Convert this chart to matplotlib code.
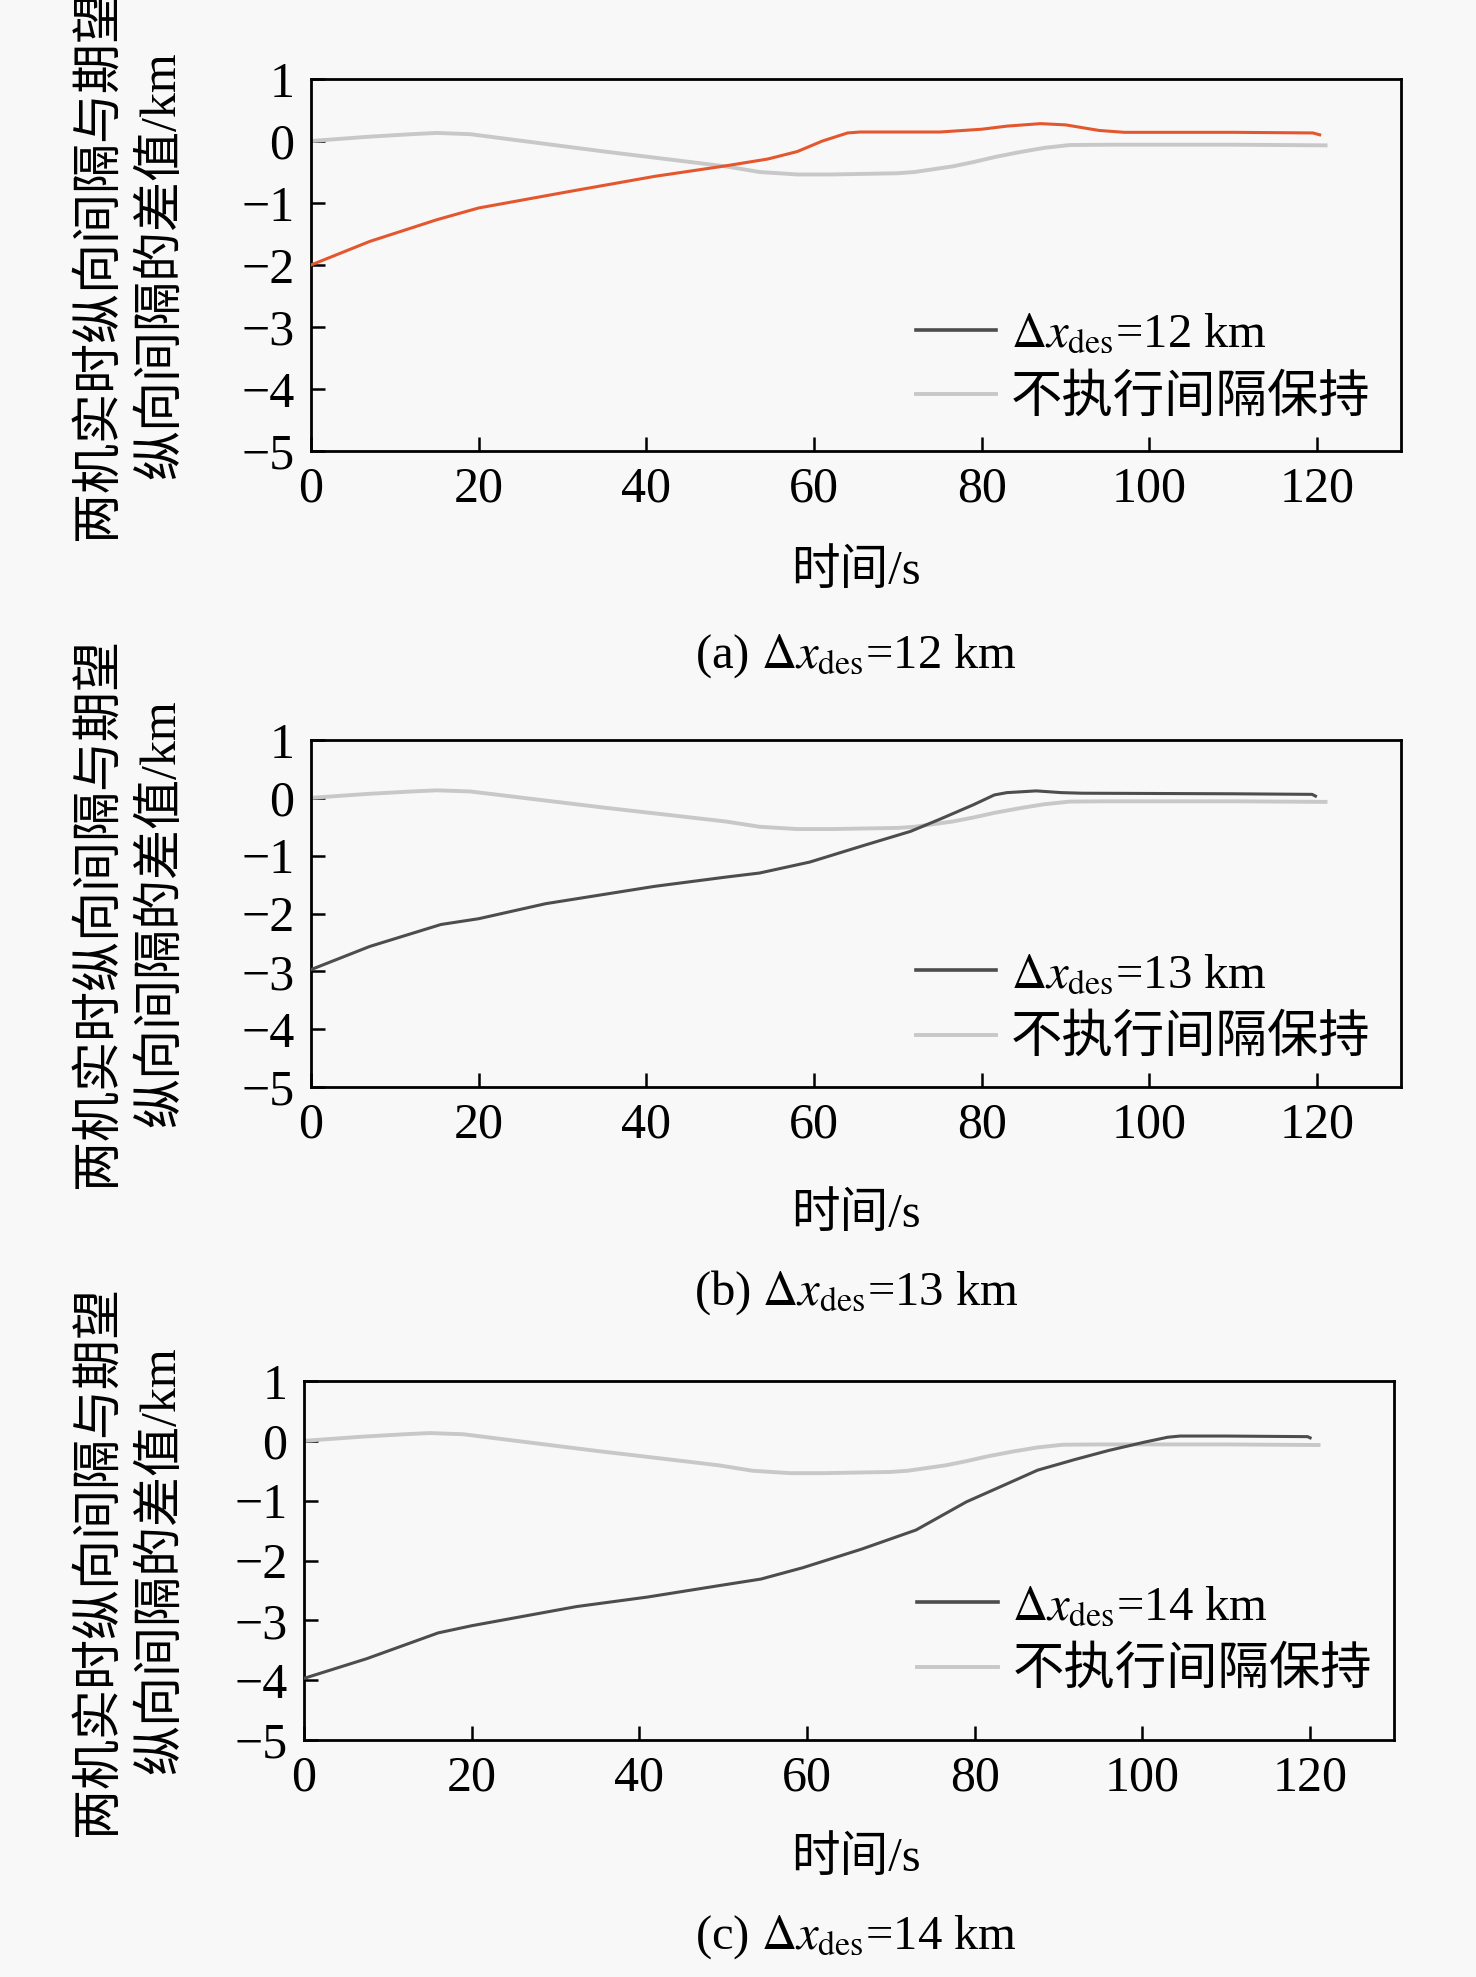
import matplotlib
matplotlib.use("Agg")
import matplotlib.pyplot as plt
from matplotlib.lines import Line2D
from matplotlib.transforms import blended_transform_factory

plt.rcParams['font.family'] = ['Liberation Serif', 'Noto Sans CJK SC']
plt.rcParams['mathtext.fontset'] = 'stix'
plt.rcParams['axes.unicode_minus'] = True

# ---- data ----
t_nokeep = [0, 7, 12, 15, 19, 23, 27, 35, 43.5, 49.5, 53.5, 58, 62, 66, 70, 72, 76.5, 79, 81.5, 84.5, 87.5, 90.5, 95, 100, 110, 121]
v_nokeep = [0, 0.07, 0.11, 0.13, 0.11, 0.04, -0.03, -0.17, -0.31, -0.41, -0.5, -0.54, -0.54, -0.53, -0.52, -0.5, -0.41, -0.34, -0.26, -0.18, -0.11, -0.065, -0.06, -0.06, -0.06, -0.07]

t_a = [0, 7, 15, 20, 31, 41, 49.5, 54.5, 58, 61, 64, 65.5, 75, 80, 83, 87, 90, 94, 97, 110, 119.5, 120.3]
v_a = [-2, -1.62, -1.27, -1.08, -0.81, -0.57, -0.4, -0.29, -0.17, 0.0, 0.13, 0.145, 0.145, 0.19, 0.24, 0.28, 0.26, 0.17, 0.14, 0.14, 0.13, 0.1]

t_b = [0, 7, 15.5, 20, 28, 41, 49.5, 53.5, 59.5, 66, 71.5, 75, 79, 81.5, 83, 86.5, 89.5, 92, 110, 119.4, 119.8]
v_b = [-2.97, -2.57, -2.19, -2.09, -1.83, -1.53, -1.37, -1.3, -1.11, -0.82, -0.58, -0.37, -0.12, 0.05, 0.09, 0.12, 0.09, 0.08, 0.07, 0.06, 0.03]

t_c = [0, 7.5, 16, 20, 32.5, 41, 49.5, 54.5, 59.5, 66.5, 73, 79, 83.5, 87.5, 92, 96, 100.3, 103, 104.5, 110, 119.7, 120]
v_c = [-3.97, -3.64, -3.21, -3.09, -2.77, -2.61, -2.42, -2.31, -2.12, -1.81, -1.49, -1.02, -0.74, -0.49, -0.31, -0.16, -0.02, 0.06, 0.08, 0.08, 0.07, 0.05]

labels_main = [r'$\Delta x_{\mathrm{des}}$=12 km', r'$\Delta x_{\mathrm{des}}$=13 km', r'$\Delta x_{\mathrm{des}}$=14 km']
label_nokeep = '不执行间隔保持'
captions = [r'(a) $\Delta x_{\mathrm{des}}$=12 km', r'(b) $\Delta x_{\mathrm{des}}$=13 km', r'(c) $\Delta x_{\mathrm{des}}$=14 km']
xticks = [0, 20, 40, 60, 80, 100, 120]
yticks = [1, 0, -1, -2, -3, -4, -5]
ylabel = '两机实时纵向间隔与期望\n纵向间隔的差值/km'
xlabel = '时间/s'

W, H = 1476, 1977
fig = plt.figure(figsize=(W / 100, H / 100), dpi=100)
bg = '#f8f8f8'
fig.patch.set_facecolor(bg)

# (left, right, top, bottom) in pixels
boxes = [(311, 1401, 79, 451), (311, 1401, 740, 1087), (304, 1394, 1381, 1740)]
xlab_y = [572, 1215, 1859]
cap_y = [656, 1293, 1937]
ylab_x = 130
leg_anchor = [(0.537, 0.224), (0.537, 0.227), (0.545, 0.279)]
main_colors = ['#e4572e', '#4d4d4d', '#4d4d4d']
dark = '#4d4d4d'
gray = '#c8c8c8'
series = [(t_a, v_a), (t_b, v_b), (t_c, v_c)]
cx = (311 + 1401) / 2 / W

for i in range(3):
    l, r, tp, bt = boxes[i]
    ax = fig.add_axes([l / W, 1 - bt / H, (r - l) / W, (bt - tp) / H])
    ax.set_facecolor(bg)
    t, v = series[i]
    ax.plot(t, v, color=main_colors[i], lw=2.2, zorder=3)
    ax.plot(t_nokeep, v_nokeep, color=gray, lw=2.8, zorder=2)
    ax.set_xlim(0, 130)
    ax.set_ylim(-5, 1)
    ax.set_xticks(xticks)
    ax.set_yticks(yticks)
    ax.tick_params(direction='in', length=10, width=1.8, labelsize=36, color='black')
    ax.tick_params(axis='x', pad=11)
    ax.tick_params(axis='y', pad=12)
    for s in ax.spines.values():
        s.set_linewidth(2.0)
    handles = [Line2D([], [], color=dark, lw=2.6), Line2D([], [], color=gray, lw=2.8)]
    leg = ax.legend(handles, [labels_main[i], label_nokeep], loc='center left',
                    bbox_to_anchor=leg_anchor[i], frameon=False,
                    fontsize=35, handlelength=1.66, handletextpad=0.29, labelspacing=0.37,
                    borderaxespad=0)
    leg.get_texts()[1].set_fontsize(37)
    tr = blended_transform_factory(fig.transFigure, ax.transAxes)
    ax.text(ylab_x / W, 0.5, ylabel, transform=tr, rotation=90, ha='center', va='center',
            fontsize=36, linespacing=1.45, multialignment='center')
    fig.text(cx, 1 - xlab_y[i] / H, xlabel, ha='center', va='center', fontsize=35)
    fig.text(cx, 1 - cap_y[i] / H, captions[i], ha='center', va='center', fontsize=35)

fig.savefig('out.png', dpi=100, facecolor=bg)
